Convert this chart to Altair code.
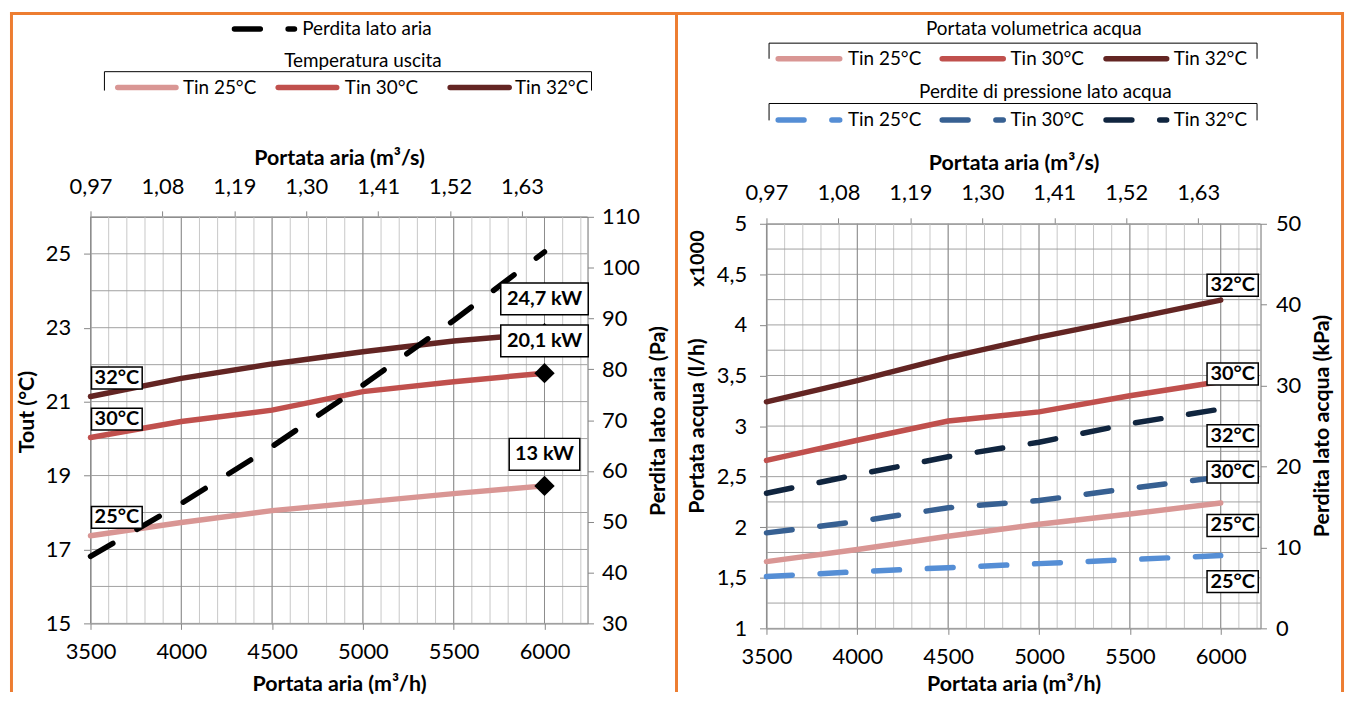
import altair as alt
import pandas as pd

FONT = "Lato"

# ---------------- data ----------------
airflow = [3500, 4000, 4500, 5000, 5500, 6000]          # m3/h
series_names = ["Tin 25°C", "Tin 30°C", "Tin 32°C"]
series_short = ["25°C", "30°C", "32°C"]

tout_25 = [17.37, 17.73, 18.05, 18.28, 18.51, 18.72]    # °C
tout_30 = [20.03, 20.46, 20.77, 21.27, 21.54, 21.77]
tout_32 = [21.14, 21.63, 22.02, 22.35, 22.64, 22.85]
air_dp = [43.2, 53.6, 64.8, 76.9, 89.6, 103.1]          # Pa
capacity_labels = ["13 kW", "20,1 kW", "24,7 kW"]

water_flow_25 = [1.66, 1.78, 1.91, 2.03, 2.13, 2.24]    # l/h x1000
water_flow_30 = [2.66, 2.86, 3.05, 3.14, 3.30, 3.44]
water_flow_32 = [3.24, 3.45, 3.68, 3.88, 4.06, 4.245]
water_dp_25 = [6.4, 7.0, 7.5, 8.0, 8.5, 9.0]            # kPa
water_dp_30 = [11.8, 13.2, 14.9, 15.8, 17.3, 18.7]
water_dp_32 = [16.7, 19.0, 21.2, 23.0, 25.3, 27.1]

x_ticks = [3500, 4000, 4500, 5000, 5500, 6000]
x_top_ticks = [3500, 3896, 4292, 4688, 5084, 5480, 5876]   # m3/h, labelled in m3/s
x_minor_grid = list(range(3500, 6201, 100))
tout_ticks = [15, 17, 19, 21, 23, 25]
tout_grid = list(range(15, 27))
air_dp_ticks = [30, 40, 50, 60, 70, 80, 90, 100, 110]
flow_ticks = [1, 1.5, 2, 2.5, 3, 3.5, 4, 4.5, 5]
flow_grid = [1, 1.25, 1.5, 1.75, 2, 2.25, 2.5, 2.75, 3, 3.25, 3.5, 3.75, 4, 4.25, 4.5, 4.75, 5]
wdp_ticks = [0, 10, 20, 30, 40, 50]

legend_air_title = "Perdita lato aria"
legend_tout_title = "Temperatura uscita"
legend_flow_title = "Portata volumetrica acqua"
legend_wdp_title = "Perdite di pressione lato acqua"

# ---------------- style ----------------
REDS = ["#d99694", "#c0504d", "#632523"]
BLUES = ["#558ed5", "#376092", "#10253f"]
ORANGE = "#ed7d31"
GRID_MINOR = "#c8c8c8"
GRID_MAJOR = "#8c8c8c"
GRID_H = "#a0a0a0"
AX = "#868686"
LW = 5.5
DASH = [26, 28]
TICK_FS, LEG_FS, TITLE_FS, BOX_FS = 22, 19, 21.5, 20


def long_df(values_list):
    rows = []
    for name, vals in zip(series_names, values_list):
        for x, v in zip(airflow, vals):
            rows.append({"x": x, "v": v, "s": name})
    return pd.DataFrame(rows)


ONE = pd.DataFrame({"k": [0]})


def rule(x1, x2, y1, y2, color="black", width=1.0, dash=None, cap="butt"):
    kw = dict(color=color, strokeWidth=width, strokeCap=cap)
    if dash:
        kw["strokeDash"] = dash
    return alt.Chart(ONE).mark_rule(**kw).encode(
        x=alt.value(x1), x2=alt.value(x2), y=alt.value(y1), y2=alt.value(y2))


def label(text, x, y, size=LEG_FS, weight="normal", align="left", angle=0):
    kw = dict(font=FONT, fontSize=size, fontWeight=weight, align=align,
              baseline="middle", color="black")
    if angle:
        kw["angle"] = angle
    return alt.Chart(pd.DataFrame({"t": [text]})).mark_text(**kw).encode(
        text="t:N", x=alt.value(x), y=alt.value(y))


TOP_LABEL_EXPR = "replace(format(datum.value / 3600, '.2f'), '.', ',')"
COMMA_EXPR = "replace(toString(datum.value), '.', ',')"

H = 414  # common view height

# ================= LEFT PANEL =================
W1, B1 = 500, 409
xs1 = alt.Scale(domain=[3500, 6237], nice=False, zero=False)
sT = alt.Scale(domain=[15, 26], range=[B1, 0], nice=False, zero=False)
sP = alt.Scale(domain=[30, 110], range=[B1, 0], nice=False, zero=False)

L = []
L.append(alt.Chart(pd.DataFrame({"g": x_minor_grid})).mark_rule(color=GRID_MINOR, strokeWidth=1).encode(
    x=alt.X("g:Q", scale=xs1, axis=alt.Axis(
        orient="top", values=x_top_ticks, labelExpr=TOP_LABEL_EXPR,
        tickSize=6, labelPadding=12, title="Portata aria (m³/s)",
        titleX=W1 / 2, titleY=-59, titleBaseline="middle")),
    y=alt.value(0), y2=alt.value(B1)))
L.append(alt.Chart(pd.DataFrame({"g": tout_grid})).mark_rule(color=GRID_H, strokeWidth=1).encode(
    y=alt.Y("g:Q", scale=sT, axis=alt.Axis(
        orient="left", values=tout_ticks, tickSize=7, labelPadding=13,
        title="Tout (°C)", titleX=-63, titleY=196, titleAngle=270, titleBaseline="middle")),
    x=alt.value(0), x2=alt.value(W1)))
L.append(alt.Chart(pd.DataFrame({"g": x_ticks})).mark_rule(color=GRID_MAJOR, strokeWidth=1).encode(
    x=alt.X("g:Q", scale=xs1, axis=alt.Axis(
        orient="bottom", offset=B1 - H, values=x_ticks, format="d", tickSize=6, labelPadding=12,
        title="Portata aria (m³/h)", titleX=W1 / 2, titleY=62, titleBaseline="middle")),
    y=alt.value(0), y2=alt.value(B1)))
L.append(alt.Chart(long_df([tout_25, tout_30, tout_32])).mark_line(strokeWidth=LW, strokeCap="round").encode(
    x=alt.X("x:Q", scale=xs1, axis=None),
    y=alt.Y("v:Q", scale=sT, axis=None),
    color=alt.Color("s:N", scale=alt.Scale(domain=series_names, range=REDS), legend=None)))
L.append(alt.Chart(pd.DataFrame({"x": airflow, "v": air_dp})).mark_line(
    color="black", strokeWidth=LW, strokeDash=DASH, strokeCap="round").encode(
    x=alt.X("x:Q", scale=xs1, axis=None),
    y=alt.Y("v:Q", scale=sP, axis=alt.Axis(
        orient="right", values=air_dp_ticks, tickSize=6, labelPadding=8,
        title="Perdita lato aria (Pa)", titleX=71, titleY=205, titleAngle=270, titleBaseline="middle"))))
end_df = pd.DataFrame({"x": [airflow[-1]] * 3, "v": [tout_25[-1], tout_30[-1], tout_32[-1]]})
L.append(alt.Chart(end_df).mark_point(shape="diamond", filled=True, size=420, color="black", opacity=1).encode(
    x=alt.X("x:Q", scale=xs1, axis=None), y=alt.Y("v:Q", scale=sT, axis=None)))
cap_style = [(71, -31.8), (88, -32.5), (88, -34.5)]
for txt, val, (bw, dy) in zip(capacity_labels, [tout_25[-1], tout_30[-1], tout_32[-1]], cap_style):
    d = pd.DataFrame({"x": [airflow[-1]], "v": [val], "t": [txt]})
    L.append(alt.Chart(d).mark_rect(fill="white", stroke="black", strokeWidth=1.5,
                                    xOffset=-bw / 2, x2Offset=bw / 2, yOffset=dy - 16, y2Offset=dy + 16).encode(
        x=alt.X("x:Q", scale=xs1, axis=None), x2="x:Q",
        y=alt.Y("v:Q", scale=sT, axis=None), y2="v:Q"))
    L.append(alt.Chart(d).mark_text(font=FONT, fontSize=BOX_FS, fontWeight="bold", dy=dy, baseline="middle").encode(
        x=alt.X("x:Q", scale=xs1, axis=None), y=alt.Y("v:Q", scale=sT, axis=None), text="t:N"))
start_df = pd.DataFrame({"x": [airflow[0]] * 3, "v": [tout_25[0], tout_30[0], tout_32[0]], "t": series_short})
L.append(alt.Chart(start_df).mark_rect(fill="white", stroke="black", strokeWidth=1.5,
                                       xOffset=1, x2Offset=52, yOffset=-29.5, y2Offset=-7.5).encode(
    x=alt.X("x:Q", scale=xs1, axis=None), x2="x:Q",
    y=alt.Y("v:Q", scale=sT, axis=None), y2="v:Q"))
L.append(alt.Chart(start_df).mark_text(font=FONT, fontSize=BOX_FS, fontWeight="bold", dx=26.5, dy=-18.5,
                                       baseline="middle").encode(
    x=alt.X("x:Q", scale=xs1, axis=None), y=alt.Y("v:Q", scale=sT, axis=None), text="t:N"))
# legends (left)
L.append(rule(144.8, 205.2, -189, -189, "black", LW, DASH, "round"))
L.append(label(legend_air_title, 213, -189))
L.append(label(legend_tout_title, 274, -157, align="center"))
L.append(rule(14, 504, -146, -146))
L.append(rule(14, 14, -146, -127))
L.append(rule(504, 504, -146, -127))
for (a, b, tx), name, col in zip([(27.4, 86, 93), (188.8, 247.7, 255.8), (361.8, 421.2, 427)], series_names, REDS):
    L.append(rule(a, b, -130, -130, col, LW, None, "round"))
    L.append(label(name, tx, -130))
# frame
L.append(rule(-81, 589.5, -204.5, -204.5, ORANGE, 3))
L.append(rule(-79.5, -79.5, -206, 478, ORANGE, 3))
L.append(rule(589.5, 589.5, -206, 478, ORANGE, 3))

left = alt.layer(*L).properties(width=W1, height=H).resolve_scale(
    y="independent", color="independent").resolve_axis(x="independent")

# ================= RIGHT PANEL =================
W2, T2 = 497, 7
xs2 = alt.Scale(domain=[3500, 6219], nice=False, zero=False)
sF = alt.Scale(domain=[1, 5], range=[H, T2], nice=False, zero=False)
sK = alt.Scale(domain=[0, 50], range=[H, T2], nice=False, zero=False)

R = []
R.append(alt.Chart(pd.DataFrame({"g": x_minor_grid})).mark_rule(color=GRID_MINOR, strokeWidth=1).encode(
    x=alt.X("g:Q", scale=xs2, axis=alt.Axis(
        orient="top", offset=-T2, values=x_top_ticks, labelExpr=TOP_LABEL_EXPR,
        tickSize=6, labelPadding=13, title="Portata aria (m³/s)",
        titleX=W2 / 2, titleY=-61, titleBaseline="middle")),
    y=alt.value(T2), y2=alt.value(H)))
R.append(alt.Chart(pd.DataFrame({"g": flow_grid})).mark_rule(color=GRID_H, strokeWidth=1).encode(
    y=alt.Y("g:Q", scale=sF, axis=alt.Axis(
        orient="left", values=flow_ticks, labelExpr=COMMA_EXPR, tickSize=7, labelPadding=13,
        title="Portata acqua (l/h)", titleX=-69, titleY=210, titleAngle=270, titleBaseline="middle")),
    x=alt.value(0), x2=alt.value(W2)))
R.append(alt.Chart(pd.DataFrame({"g": x_ticks})).mark_rule(color=GRID_MAJOR, strokeWidth=1).encode(
    x=alt.X("g:Q", scale=xs2, axis=alt.Axis(
        orient="bottom", values=x_ticks, format="d", tickSize=6, labelPadding=12,
        title="Portata aria (m³/h)", titleX=W2 / 2, titleY=57, titleBaseline="middle")),
    y=alt.value(T2), y2=alt.value(H)))
R.append(alt.Chart(long_df([water_flow_25, water_flow_30, water_flow_32])).mark_line(
    strokeWidth=LW, strokeCap="round").encode(
    x=alt.X("x:Q", scale=xs2, axis=None),
    y=alt.Y("v:Q", scale=sF, axis=None),
    color=alt.Color("s:N", scale=alt.Scale(domain=series_names, range=REDS), legend=None)))
R.append(alt.Chart(long_df([water_dp_25, water_dp_30, water_dp_32])).mark_line(
    strokeWidth=LW, strokeDash=DASH, strokeCap="round").encode(
    x=alt.X("x:Q", scale=xs2, axis=None),
    y=alt.Y("v:Q", scale=sK, axis=alt.Axis(
        orient="right", values=wdp_ticks, tickSize=6, labelPadding=9,
        title="Perdita lato acqua (kPa)", titleX=62, titleY=210, titleAngle=270, titleBaseline="middle")),
    color=alt.Color("s:N", scale=alt.Scale(domain=series_names, range=BLUES), legend=None)))
right_labels = [
    (sF, water_flow_32[-1], series_short[2], -15),
    (sF, water_flow_30[-1], series_short[1], -7.6),
    (sK, water_dp_32[-1], series_short[2], 26.8),
    (sK, water_dp_30[-1], series_short[1], -5),
    (sF, water_flow_25[-1], series_short[0], 22.7),
    (sK, water_dp_25[-1], series_short[0], 26.3),
]
for sc, val, txt, dy in right_labels:
    d = pd.DataFrame({"x": [airflow[-1]], "v": [val], "t": [txt]})
    R.append(alt.Chart(d).mark_rect(fill="white", stroke="black", strokeWidth=1.5,
                                    xOffset=-13.75, x2Offset=37.75, yOffset=dy - 11, y2Offset=dy + 11).encode(
        x=alt.X("x:Q", scale=xs2, axis=None), x2="x:Q",
        y=alt.Y("v:Q", scale=sc, axis=None), y2="v:Q"))
    R.append(alt.Chart(d).mark_text(font=FONT, fontSize=BOX_FS, fontWeight="bold", dx=12, dy=dy,
                                    baseline="middle").encode(
        x=alt.X("x:Q", scale=xs2, axis=None), y=alt.Y("v:Q", scale=sc, axis=None), text="t:N"))
R.append(label("x1000", -69, 42, size=BOX_FS, weight="bold", align="center", angle=270))
# legends (right)
R.append(label(legend_flow_title, 269, -189, align="center"))
R.append(rule(2.6, 493.5, -174.7, -174.7))
R.append(rule(2.6, 2.6, -174.7, -159))
R.append(rule(493.5, 493.5, -174.7, -159))
item_pos = [(11.8, 73.7, 82), (176.8, 238.2, 245.5), (341.6, 402.6, 409.7)]
for (a, b, tx), name, col in zip(item_pos, series_names, REDS):
    R.append(rule(a, b, -159, -159, col, LW, None, "round"))
    R.append(label(name, tx, -159))
R.append(label(legend_wdp_title, 280.5, -125.7, align="center"))
R.append(rule(2.6, 493.5, -114, -114))
R.append(rule(2.6, 2.6, -114, -97))
R.append(rule(493.5, 493.5, -114, -97))
for (a, b, tx), name, col in zip(item_pos, series_names, BLUES):
    R.append(rule(a, b, -97.3, -97.3, col, LW, DASH, "round"))
    R.append(label(name, tx, -97.3))
# frame
R.append(rule(-90.5, 581, -204.5, -204.5, ORANGE, 3))
R.append(rule(579.5, 579.5, -206, 478, ORANGE, 3))

right = alt.layer(*R).properties(width=W2, height=H).resolve_scale(
    y="independent", color="independent").resolve_axis(x="independent")

chart = alt.hconcat(left, right, spacing=180, bounds="flush").properties(
    padding=0, background="white"
).configure_view(stroke=None).configure_axis(
    labelFont=FONT, titleFont=FONT, labelFontSize=TICK_FS, titleFontSize=TITLE_FS, titleFontWeight="bold",
    labelColor="black", titleColor="black", domainColor=AX, tickColor=AX, domainWidth=1.2,
    grid=False, labelFlush=False, labelOverlap=False
).configure_text(font=FONT)

chart.save("out.html", embed_options={"renderer": "svg", "actions": False})
